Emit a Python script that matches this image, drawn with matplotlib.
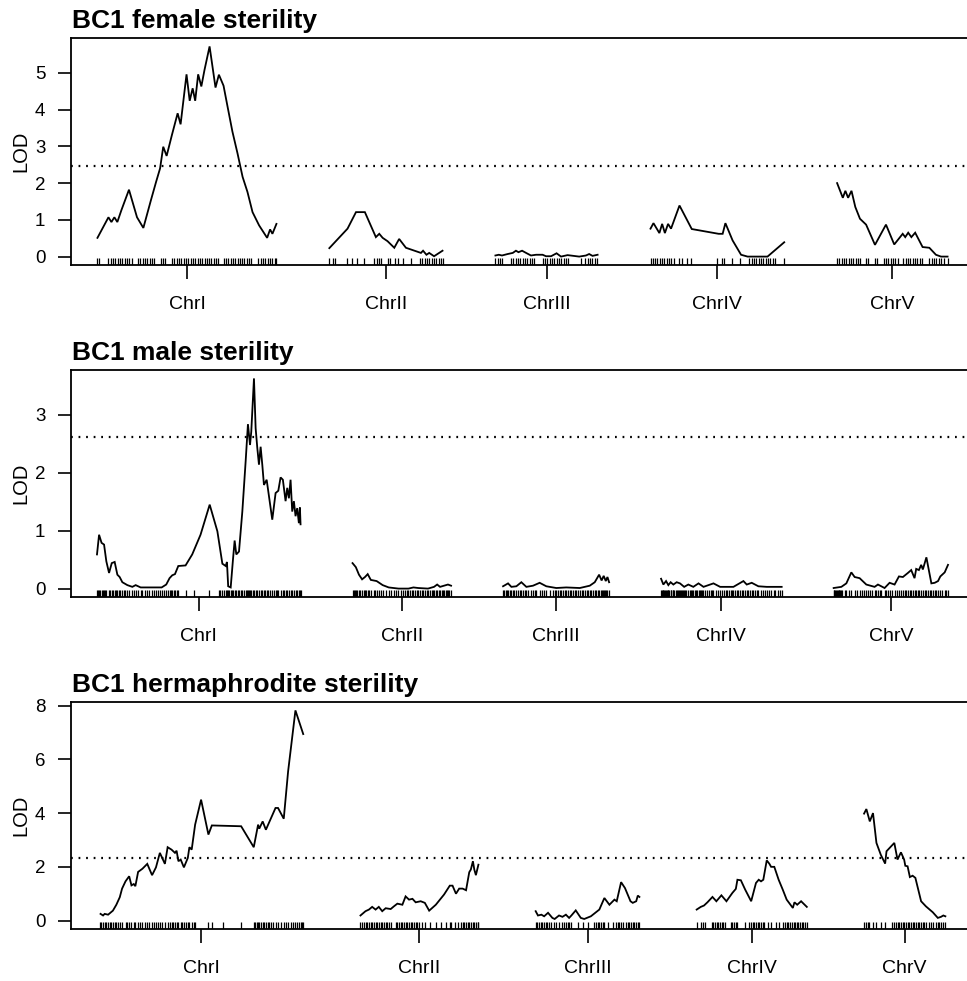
import numpy as np
import matplotlib.pyplot as plt

plt.rcParams['font.family'] = ['Liberation Sans', 'DejaVu Sans']

chroms = ['ChrI', 'ChrII', 'ChrIII', 'ChrIV', 'ChrV']
GAP = 25  # cM left between chromosomes

# ---- BC1 female sterility: (position cM, LOD) and marker positions ----
fem_I = [(0, 0.51), (5.2, 1.07), (6.6, 0.94), (8.0, 1.07), (9.4, 0.94), (11.3, 1.26),
         (14.9, 1.82), (18.7, 1.07), (21.7, 0.78), (25.3, 1.54), (27.7, 2.03), (29.6, 2.40),
         (31.1, 2.99), (32.7, 2.74), (35.2, 3.31), (37.9, 3.90), (39.3, 3.60), (42.1, 4.96),
         (43.6, 4.24), (45.0, 4.58), (46.2, 4.24), (47.6, 4.96), (49.1, 4.63), (50.6, 5.08),
         (53.0, 5.72), (55.8, 4.60), (57.4, 4.95), (59.6, 4.65), (61.5, 4.08), (63.8, 3.40),
         (66.2, 2.81), (68.6, 2.17), (70.9, 1.76), (73.3, 1.21), (76.4, 0.85), (80.2, 0.51),
         (81.6, 0.74), (82.7, 0.62), (84.6, 0.89)]
fem_II = [(0, 0.23), (8.6, 0.76), (12.6, 1.21), (16.8, 1.21), (22.0, 0.53), (23.6, 0.62),
          (25.2, 0.51), (27.5, 0.42), (30.7, 0.24), (33.0, 0.48), (36.2, 0.24), (43.3, 0.10),
          (44.3, 0.16), (45.9, 0.05), (47.2, 0.10), (49.5, 0.01), (53.5, 0.16)]
fem_III = [(0, 0.03), (1.6, 0.05), (3.1, 0.03), (5.8, 0.07), (8.2, 0.10), (9.7, 0.16),
           (10.9, 0.12), (12.6, 0.16), (14.5, 0.10), (16.8, 0.03), (19.2, 0.05), (22.3, 0.05),
           (23.9, 0.01), (26.3, 0.01), (28.9, 0.09), (31.0, 0.0), (34.1, 0.04), (39.6, 0.0),
           (42.8, 0.03), (44.3, 0.07), (45.9, 0.02), (48.3, 0.05)]
fem_IV = [(0, 0.76), (1.4, 0.91), (4.2, 0.64), (5.5, 0.89), (6.8, 0.64), (8.3, 0.89),
          (9.7, 0.76), (13.7, 1.39), (19.5, 0.75), (32.2, 0.62), (34.1, 0.62), (35.4, 0.91),
          (38.8, 0.44), (42.8, 0.05), (45.9, 0.0), (55.3, 0.0), (63.2, 0.39)]
fem_V = [(0, 2.00), (2.7, 1.60), (3.9, 1.79), (5.2, 1.60), (6.8, 1.79), (8.6, 1.35),
         (10.8, 1.03), (13.7, 0.87), (17.9, 0.32), (23.1, 0.87), (27.0, 0.33), (31.0, 0.62),
         (32.2, 0.53), (33.6, 0.65), (35.1, 0.53), (36.9, 0.65), (40.4, 0.26), (43.6, 0.24),
         (46.7, 0.05), (49.1, 0.0), (52.2, 0.0)]

fem_mk_I = [0, 0.9, 5.2, 6.3, 7.4, 8.5, 9.6, 10.7, 11.8, 12.9, 14.0, 15.1, 16.2, 19.2, 20.3,
            21.4, 22.5, 23.6, 24.7, 25.8, 26.9, 29.9, 31.0, 32.1, 35.2, 36.3, 37.4, 38.5, 39.6,
            40.7, 41.8, 42.9, 44.0, 45.1, 46.2, 47.3, 48.4, 49.5, 50.6, 51.7, 52.8, 53.9, 55.0,
            56.1, 57.2, 59.6, 60.7, 61.8, 62.9, 64.0, 65.1, 66.2, 67.3, 68.4, 69.5, 70.6, 71.7,
            72.8, 76.1, 77.2, 78.3, 79.4, 80.5, 81.6, 82.7, 83.8, 84.6]
fem_mk_II = [0, 1.6, 2.7, 8.3, 10.7, 13.0, 16.5, 21.2, 22.3, 23.4, 24.5, 27.8, 28.9, 31.1,
             32.4, 34.9, 38.8, 42.8, 43.9, 45.0, 46.1, 47.2, 48.3, 49.4, 50.5, 51.6, 52.7, 53.5]
fem_mk_III = [0, 1.1, 2.2, 3.1, 7.4, 8.5, 9.6, 10.7, 11.8, 12.9, 14.0, 15.1, 16.2, 17.3, 18.4,
              22.3, 23.4, 24.5, 25.6, 26.7, 27.8, 28.9, 30.0, 31.1, 32.2, 33.3, 34.4, 40.4,
              42.5, 43.6, 44.7, 45.8, 46.9, 48.0]
fem_mk_IV = [0, 1.1, 2.2, 3.3, 4.4, 5.5, 6.6, 7.7, 8.8, 9.9, 11.0, 13.7, 14.8, 17.3, 19.2,
             31.6, 33.6, 34.7, 38.4, 42.5, 46.7, 47.8, 48.9, 50.0, 51.1, 52.2, 53.3, 54.4,
             55.5, 56.6, 57.7, 58.8, 63.2]
fem_mk_V = [0, 1.1, 2.2, 3.3, 4.4, 5.5, 6.6, 7.7, 8.8, 9.9, 11.0, 13.7, 14.8, 17.8, 18.9,
            22.0, 23.1, 24.2, 25.3, 26.4, 27.5, 28.6, 31.3, 32.4, 33.5, 34.6, 35.7, 36.8, 37.9,
            39.0, 40.1, 43.6, 44.7, 45.8, 46.9, 48.0, 49.1, 50.6, 52.2]
fem_thresh = 2.47

# ---- BC1 male sterility ----
male_I = [(0, 0.59), (1.0, 0.93), (2.2, 0.79), (3.4, 0.76), (4.5, 0.47), (5.8, 0.27),
          (7.1, 0.44), (8.5, 0.46), (9.8, 0.24), (10.9, 0.20), (12.2, 0.11), (14.6, 0.06),
          (17.0, 0.03), (18.6, 0.06), (21.0, 0.02), (26.6, 0.02), (31.1, 0.02), (33.3, 0.07),
          (34.9, 0.18), (36.2, 0.23), (37.5, 0.25), (39.1, 0.39), (42.6, 0.40), (45.8, 0.59),
          (49.8, 0.93), (54.2, 1.45), (57.9, 0.99), (60.3, 0.43), (61.9, 0.39), (62.5, 0.46),
          (63.1, 0.04), (64.3, 0.02), (65.4, 0.50), (66.2, 0.83), (67.0, 0.59), (68.3, 0.64),
          (69.9, 1.33), (71.5, 2.20), (72.6, 2.84), (73.6, 2.48), (74.2, 2.71), (75.5, 3.63),
          (76.3, 2.77), (77.1, 2.43), (77.9, 2.14), (78.7, 2.45), (79.5, 2.14), (80.3, 1.79),
          (81.6, 1.88), (84.3, 1.19), (85.9, 1.65), (87.2, 1.69), (88.3, 1.92), (89.4, 1.88),
          (90.7, 1.51), (91.5, 1.74), (92.3, 1.56), (93.1, 1.88), (93.9, 1.33), (94.7, 1.51),
          (95.5, 1.25), (96.3, 1.39), (97.1, 1.13), (97.6, 1.40), (97.9, 1.11)]
male_II = [(0, 0.44), (1.6, 0.37), (3.1, 0.24), (4.6, 0.16), (6.0, 0.20), (7.3, 0.25),
           (8.8, 0.15), (11.6, 0.13), (14.5, 0.06), (17.4, 0.02), (22.1, 0.0), (26.9, 0.0),
           (29.3, 0.02), (31.6, 0.01), (36.3, 0.0), (39.2, 0.03), (40.7, 0.07), (42.1, 0.03),
           (44.0, 0.05), (45.9, 0.07), (47.4, 0.05)]
male_III = [(0, 0.04), (2.4, 0.09), (4.0, 0.03), (6.4, 0.04), (8.8, 0.11), (11.2, 0.03),
            (14.4, 0.05), (17.6, 0.10), (20.8, 0.04), (25.6, 0.01), (30.4, 0.02), (36.9, 0.01),
            (41.7, 0.05), (44.1, 0.11), (46.2, 0.24), (47.4, 0.14), (48.4, 0.22), (49.4, 0.13),
            (50.2, 0.20), (51.0, 0.11)]
male_IV = [(0, 0.17), (1.1, 0.07), (2.4, 0.13), (3.5, 0.06), (4.6, 0.11), (5.9, 0.07),
           (7.5, 0.11), (9.1, 0.09), (11.1, 0.03), (13.1, 0.07), (15.5, 0.03), (18.0, 0.09),
           (20.4, 0.03), (25.2, 0.09), (28.4, 0.03), (34.8, 0.03), (39.6, 0.13), (41.2, 0.07),
           (43.6, 0.10), (46.8, 0.04), (50.8, 0.03), (58.0, 0.03)]
male_V = [(0, 0.01), (3.7, 0.03), (6.1, 0.09), (8.5, 0.28), (10.1, 0.20), (12.5, 0.18),
          (15.7, 0.07), (19.7, 0.03), (21.3, 0.07), (24.5, 0.01), (26.9, 0.10), (29.3, 0.07),
          (31.4, 0.21), (33.3, 0.20), (35.7, 0.27), (37.3, 0.32), (38.9, 0.18), (39.7, 0.34),
          (41.0, 0.32), (42.1, 0.41), (42.9, 0.33), (44.6, 0.54), (47.0, 0.09), (48.6, 0.10),
          (50.2, 0.13), (51.3, 0.21), (53.4, 0.28), (55.0, 0.41)]

male_mk_I = [0, 0.5, 1.0, 1.6, 2.2, 2.8, 3.4, 4.0, 4.5, 5.8, 6.4, 7.1, 7.7, 8.5, 9.1, 9.8,
             10.4, 10.9, 12.2, 13.0, 13.6, 14.6, 15.5, 17.0, 17.8, 18.6, 19.5, 21.0, 21.8,
             23.0, 24.0, 25.2, 26.6, 27.4, 28.2, 29.5, 30.3, 31.1, 32.2, 33.3, 34.1, 34.9,
             35.6, 36.2, 36.9, 37.5, 38.3, 39.1, 42.6, 46.6, 53.8, 58.6, 59.4, 60.3, 61.1,
             61.9, 62.5, 63.1, 63.7, 64.3, 65.0, 65.4, 66.2, 67.0, 67.6, 68.3, 69.1, 69.9,
             70.7, 71.5, 72.0, 72.6, 73.1, 73.6, 74.2, 74.8, 75.5, 76.3, 77.1, 77.9, 78.7,
             79.5, 80.3, 81.0, 81.6, 82.4, 83.4, 84.3, 85.1, 85.9, 86.6, 87.2, 88.3, 89.4,
             90.0, 90.7, 91.5, 92.3, 93.1, 93.9, 94.7, 95.5, 96.3, 97.1, 97.6, 97.9]
male_mk_II = [0, 0.6, 1.2, 1.6, 2.3, 3.1, 3.8, 4.6, 5.3, 6.0, 6.7, 7.3, 8.1, 8.8, 10.2, 10.9,
              11.6, 12.9, 13.8, 14.5, 16.0, 17.4, 18.7, 20.1, 21.0, 22.1, 23.4, 24.5, 25.2,
              26.1, 26.9, 27.8, 28.6, 29.3, 30.2, 31.0, 31.6, 32.5, 33.3, 34.1, 34.9, 35.6,
              36.3, 37.2, 38.0, 38.8, 39.2, 40.0, 40.7, 41.4, 42.1, 42.8, 43.5, 44.0, 44.8,
              45.5, 45.9, 46.6, 47.4]
male_mk_III = [0, 0.6, 1.3, 2.0, 2.4, 3.2, 4.0, 4.8, 5.5, 6.4, 7.2, 8.0, 8.8, 9.6, 10.4, 11.2,
               12.0, 13.2, 14.4, 15.2, 16.0, 17.6, 18.6, 19.8, 20.8, 22.4, 24.0, 25.0, 25.6,
               26.4, 27.2, 28.0, 28.8, 29.6, 30.4, 31.2, 32.0, 32.8, 33.6, 34.4, 35.2, 36.0,
               36.9, 37.8, 38.6, 39.4, 40.2, 41.0, 41.7, 42.5, 43.3, 44.1, 44.9, 45.6, 46.2,
               46.9, 47.4, 48.0, 48.4, 49.0, 49.4, 50.2, 51.0]
male_mk_IV = [0, 0.4, 0.8, 1.1, 1.6, 2.0, 2.4, 2.8, 3.2, 3.5, 4.0, 4.6, 5.0, 5.5, 5.9, 6.4,
              7.0, 7.5, 8.0, 8.6, 9.1, 9.6, 10.1, 10.6, 11.1, 11.6, 12.2, 13.1, 13.7, 14.3,
              14.9, 15.5, 16.1, 16.8, 17.4, 18.0, 18.6, 19.2, 19.8, 20.4, 21.1, 22.0, 23.2,
              24.0, 24.6, 25.2, 26.4, 27.4, 28.4, 29.4, 30.2, 31.0, 31.8, 32.6, 33.4, 34.2,
              34.8, 35.6, 36.4, 37.2, 38.0, 38.8, 39.6, 40.4, 41.2, 42.0, 42.8, 43.6, 44.4,
              45.2, 46.0, 46.8, 48.0, 49.2, 50.0, 50.8, 51.8, 53.0, 54.2, 55.0, 56.0, 57.0, 58.0]
male_mk_V = [0, 0.4, 0.8, 1.2, 1.6, 2.0, 2.4, 2.8, 3.2, 3.7, 4.2, 5.4, 6.1, 7.4, 8.5, 10.1,
             11.2, 12.5, 13.6, 14.4, 15.7, 16.5, 17.6, 18.6, 19.7, 20.5, 21.3, 22.2, 23.0,
             24.5, 25.3, 26.1, 26.9, 28.1, 29.3, 30.6, 31.4, 32.3, 33.3, 34.2, 35.0, 35.7,
             36.5, 37.3, 38.1, 38.9, 39.7, 40.4, 41.0, 42.1, 42.9, 43.7, 44.6, 45.4, 46.2,
             47.0, 47.8, 48.6, 49.4, 50.2, 51.3, 52.1, 53.4, 54.2, 55.0]
male_thresh = 2.62

# ---- BC1 hermaphrodite sterility ----
herm_I = [(0.4, 0.25), (1.5, 0.19), (2.2, 0.25), (3.7, 0.22), (5.8, 0.37), (7.3, 0.59),
          (8.8, 0.87), (9.8, 1.19), (11.3, 1.46), (12.9, 1.65), (13.9, 1.31), (14.9, 1.36),
          (15.6, 1.28), (16.8, 1.81), (18.7, 1.93), (20.8, 2.11), (22.9, 1.69), (24.6, 1.98),
          (26.3, 2.52), (28.5, 2.11), (29.7, 2.73), (31.4, 2.64), (32.9, 2.52), (33.6, 2.60),
          (34.4, 2.21), (35.4, 2.27), (36.8, 1.98), (38.5, 2.33), (39.2, 2.73), (40.2, 2.64),
          (41.7, 3.57), (44.3, 4.50), (47.5, 3.20), (49.0, 3.54), (61.8, 3.51), (67.3, 2.73),
          (69.2, 3.57), (69.7, 3.42), (71.2, 3.69), (72.6, 3.38), (76.8, 4.19), (77.9, 4.19),
          (80.4, 3.79), (82.3, 5.55), (85.5, 7.82), (88.9, 6.94)]
herm_II = [(0, 0.19), (2.2, 0.35), (3.7, 0.41), (5.1, 0.51), (6.6, 0.41), (8.0, 0.51),
           (9.5, 0.35), (11.0, 0.46), (13.2, 0.43), (14.6, 0.53), (16.1, 0.63), (18.3, 0.59),
           (19.7, 0.90), (21.2, 0.78), (22.7, 0.81), (24.1, 0.68), (26.3, 0.72), (28.1, 0.66),
           (30.0, 0.37), (32.9, 0.59), (36.5, 0.97), (39.0, 1.30), (40.2, 1.30), (41.7, 1.00),
           (43.1, 1.19), (44.6, 1.19), (46.1, 1.13), (47.5, 1.80), (48.2, 1.90), (49.1, 2.21),
           (49.7, 1.90), (50.4, 1.69), (51.5, 2.08)]
herm_III = [(0, 0.35), (1.0, 0.19), (2.5, 0.22), (3.7, 0.16), (5.4, 0.29), (7.3, 0.10),
            (8.3, 0.06), (10.2, 0.19), (11.7, 0.14), (13.2, 0.22), (14.6, 0.10), (15.6, 0.19),
            (17.5, 0.38), (19.7, 0.10), (21.2, 0.06), (24.1, 0.16), (27.8, 0.41), (30.0, 0.84),
            (32.2, 0.59), (34.4, 0.78), (35.4, 0.72), (37.3, 1.43), (39.0, 1.21), (41.4, 0.72),
            (42.4, 0.66), (43.9, 0.72), (44.6, 0.93), (45.3, 0.88)]
herm_IV = [(0, 0.41), (1.8, 0.51), (3.2, 0.56), (4.7, 0.68), (6.9, 0.88), (8.6, 0.72),
           (10.8, 0.94), (13.0, 0.72), (15.6, 1.03), (17.1, 1.18), (17.8, 1.52), (19.3, 1.50),
           (21.2, 1.15), (23.8, 0.72), (25.9, 1.40), (27.1, 1.52), (28.1, 1.46), (29.1, 1.52),
           (30.6, 2.24), (31.7, 2.12), (32.5, 2.00), (33.9, 2.00), (35.8, 1.52), (37.6, 1.15),
           (39.3, 0.78), (42.0, 0.47), (42.7, 0.68), (43.9, 0.59), (45.6, 0.72), (48.1, 0.51)]
herm_V = [(0, 3.98), (1.0, 4.15), (2.5, 3.69), (3.9, 4.00), (5.4, 2.89), (7.3, 2.45),
          (9.2, 2.12), (9.8, 2.58), (13.2, 2.89), (14.6, 2.27), (16.1, 2.54), (17.5, 2.27),
          (18.0, 2.04), (19.0, 2.02), (20.0, 1.62), (21.2, 1.67), (22.4, 1.59), (24.9, 0.72),
          (27.0, 0.53), (30.0, 0.31), (32.2, 0.10), (33.6, 0.14), (34.6, 0.19), (35.5, 0.16)]

herm_mk_I = [0, 0.7, 1.5, 2.2, 3.0, 3.7, 4.5, 5.1, 5.8, 6.6, 7.3, 8.1, 8.8, 9.8, 11.3, 12.1,
             12.9, 13.9, 14.9, 15.6, 16.8, 17.7, 18.7, 19.6, 20.8, 21.6, 22.9, 23.7, 24.6,
             25.4, 26.3, 27.1, 28.5, 29.7, 30.6, 31.4, 32.2, 32.9, 33.6, 34.4, 35.4, 36.1,
             36.8, 37.7, 38.5, 39.2, 40.2, 41.0, 41.7, 47.5, 49.0, 53.8, 61.8, 67.3, 68.0,
             68.6, 69.2, 69.7, 70.4, 71.2, 71.9, 72.6, 73.4, 74.1, 74.9, 75.6, 76.8, 77.9,
             79.1, 80.4, 81.2, 82.3, 83.7, 84.6, 85.5, 86.4, 87.1, 87.8, 88.4, 88.9]
herm_mk_II = [0, 0.7, 1.5, 2.2, 2.9, 3.7, 4.4, 5.1, 5.8, 6.6, 7.3, 8.0, 8.8, 9.5, 10.2, 11.0,
              11.7, 12.4, 13.2, 15.4, 16.1, 16.8, 17.5, 18.3, 19.0, 19.7, 20.5, 21.2, 21.9,
              22.7, 23.4, 24.1, 24.8, 25.6, 26.8, 28.1, 30.4, 32.9, 35.1, 37.3, 38.9, 39.6,
              41.4, 42.5, 43.9, 44.6, 45.3, 46.1, 46.8, 47.5, 48.2, 49.0, 49.7, 50.4, 51.2, 51.5]
herm_mk_III = [0, 0.7, 1.5, 2.2, 2.9, 3.7, 4.4, 5.1, 5.8, 6.6, 8.0, 8.8, 10.2, 11.7, 12.4,
               13.2, 13.9, 14.6, 15.4, 18.3, 20.5, 22.7, 25.6, 26.3, 27.0, 27.8, 28.5, 29.2,
               30.0, 31.4, 33.6, 35.1, 35.8, 36.5, 37.3, 38.0, 39.5, 40.2, 40.9, 41.7, 42.4,
               43.1, 43.9, 44.6, 45.3]
herm_mk_IV = [0, 1.8, 2.8, 3.7, 6.6, 7.3, 8.0, 8.8, 9.5, 10.2, 11.0, 11.7, 12.4, 14.9, 15.6,
              16.4, 17.1, 17.8, 21.2, 22.9, 23.7, 24.4, 25.1, 25.9, 26.6, 27.3, 28.1, 28.8,
              29.6, 31.0, 32.5, 34.6, 36.1, 37.9, 38.6, 39.3, 40.1, 40.8, 41.5, 42.3, 43.0,
              43.7, 44.4, 45.2, 45.9, 46.6, 47.4, 48.1]
herm_mk_V = [0, 0.7, 1.5, 2.2, 3.7, 5.1, 7.3, 9.2, 12.4, 13.2, 13.9, 14.6, 15.4, 16.1, 16.8,
             17.5, 18.3, 19.0, 19.7, 20.5, 21.2, 21.9, 22.7, 23.4, 24.1, 24.8, 25.6, 26.3,
             27.0, 28.5, 29.2, 30.0, 31.4, 32.2, 32.9, 33.6, 34.4, 35.5]
herm_thresh = 2.34

panels = [
    ('BC1 female sterility', [fem_I, fem_II, fem_III, fem_IV, fem_V],
     [fem_mk_I, fem_mk_II, fem_mk_III, fem_mk_IV, fem_mk_V], fem_thresh, [0, 1, 2, 3, 4, 5]),
    ('BC1 male sterility', [male_I, male_II, male_III, male_IV, male_V],
     [male_mk_I, male_mk_II, male_mk_III, male_mk_IV, male_mk_V], male_thresh, [0, 1, 2, 3]),
    ('BC1 hermaphrodite sterility', [herm_I, herm_II, herm_III, herm_IV, herm_V],
     [herm_mk_I, herm_mk_II, herm_mk_III, herm_mk_IV, herm_mk_V], herm_thresh, [0, 2, 4, 6, 8]),
]

W, H = 967, 981
fig = plt.figure(figsize=(W / 100, H / 100), dpi=100)

ax_left, ax_right = 71, 974   # box runs off the right edge
ax_tops = [38, 370, 702]
ax_h = 227

for (title, curves, markers, thresh, yticks), top in zip(panels, ax_tops):
    ax = fig.add_axes([ax_left / W, 1 - (top + ax_h) / H, (ax_right - ax_left) / W, ax_h / H])

    start = 0
    mids = []
    ymax = 0
    for pts, mk in zip(curves, markers):
        pos = np.array([p for p, _ in pts])
        lod = np.array([v for _, v in pts])
        length = max(pos.max(), max(mk))
        ax.plot(start + pos, lod, color='black', lw=1.3, solid_joinstyle='miter')
        # marker rug along the bottom of the box
        ax.vlines(start + np.array(mk), 0, 0.03, transform=ax.get_xaxis_transform(),
                  color='black', lw=0.9)
        mids.append(start + length / 2)
        ymax = max(ymax, lod.max())
        start += length + GAP
    end = start - GAP

    ax.axhline(thresh, color='black', lw=1.6, linestyle=(0, (0.8, 2.6)))

    ax.set_xlim(-GAP / 2, end + GAP / 2)
    ax.set_ylim(-0.04 * ymax, 1.04 * ymax)
    ax.set_xticks(mids)
    ax.set_xticklabels(chroms, fontsize=14)
    ax.set_yticks(yticks)
    ax.set_yticklabels([str(t) for t in yticks], fontsize=13.5)
    ax.tick_params(axis='x', length=10, width=1.2, pad=12)
    ax.tick_params(axis='y', length=9.5, width=1.2, pad=9)
    for sp in ax.spines.values():
        sp.set_linewidth(1.3)
    ax.set_ylabel('LOD', fontsize=14.5, labelpad=3)

    fig.text(72 / W, 1 - (top - 10) / H, title, fontsize=19, fontweight='bold',
             ha='left', va='baseline')

fig.savefig('out.png', dpi=100)
